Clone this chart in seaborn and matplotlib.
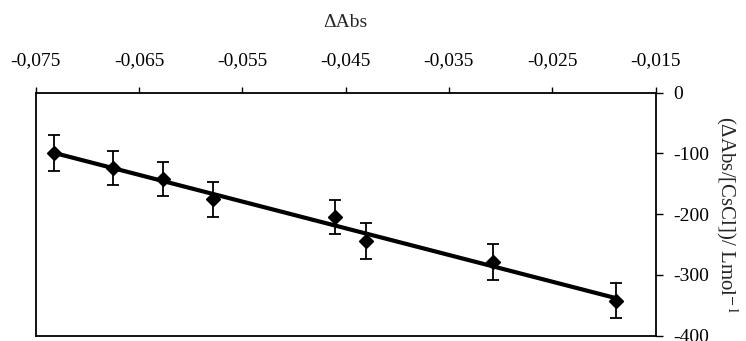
import numpy as np
import matplotlib
matplotlib.use("Agg")
import matplotlib.pyplot as plt
import seaborn as sns
from matplotlib.ticker import FuncFormatter

# data
delta_abs = [-0.0732, -0.0675, -0.0627, -0.0578, -0.0460, -0.0430, -0.0307, -0.0188]
ratio = [-99.5, -123.7, -142.3, -175.7, -205.3, -244.2, -278.8, -342.4]
ratio_err = [30, 28, 28, 29, 28, 29, 29, 29]

x_ticks = [-0.075, -0.065, -0.055, -0.045, -0.035, -0.025, -0.015]
y_ticks = [0, -100, -200, -300, -400]

sns.set_style("ticks")
plt.rcParams['font.family'] = ['Liberation Serif', 'DejaVu Serif']
plt.rcParams['axes.unicode_minus'] = False
plt.rcParams['mathtext.fontset'] = 'stix'

fig = plt.figure(figsize=(7.46, 3.41), dpi=100)
ax = fig.add_axes([35.7 / 746, 1 - 335.7 / 341, (655.5 - 35.7) / 746, (335.7 - 92.5) / 341])

# fitted line
sns.regplot(x=np.array(delta_abs), y=np.array(ratio), ax=ax, ci=None, scatter=False,
            truncate=True, color="black", line_kws={"linewidth": 3, "solid_capstyle": "butt"})

# points with error bars
ax.errorbar(delta_abs, ratio, yerr=ratio_err, fmt="D", color="black", markersize=7,
            ecolor="black", elinewidth=1.3, capsize=4, capthick=1.3, zorder=3)

ax.set_xlim(-0.075, -0.015)
ax.set_ylim(-400, 0)
ax.set_xticks(x_ticks)
ax.set_yticks(y_ticks)
ax.xaxis.set_major_formatter(FuncFormatter(lambda v, p: f"{v:.3f}".replace(".", ",")))
ax.yaxis.set_major_formatter(FuncFormatter(lambda v, p: f"{v:.0f}"))

ax.xaxis.tick_top()
ax.xaxis.set_label_position("top")
ax.yaxis.tick_right()
ax.yaxis.set_label_position("right")
ax.tick_params(axis="x", direction="out", length=4, width=1, pad=13, labelsize=14, colors="black")
ax.tick_params(axis="y", direction="out", length=5, width=1, pad=8, labelsize=14, colors="black")

for s in ax.spines.values():
    s.set_visible(True)
    s.set_color("black")
    s.set_linewidth(1.3)

ax.set_xlabel("ΔAbs", fontsize=14, labelpad=18)
ax.set_ylabel("(ΔAbs/[CsCl])/ Lmol$^{\\mathrm{-1}}$", fontsize=15, rotation=270, labelpad=22)

fig.savefig("out.png", dpi=100)
